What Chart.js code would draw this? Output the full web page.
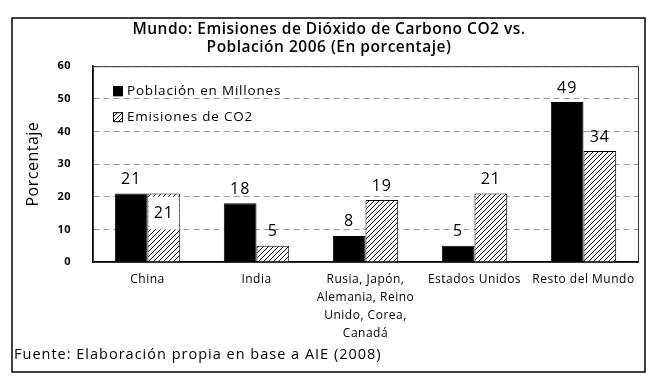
<!DOCTYPE html>
<html>
<head>
<meta charset="utf-8">
<script src="https://cdn.jsdelivr.net/npm/chart.js@4.4.1/dist/chart.umd.min.js"></script>
<style>
  html, body { margin: 0; padding: 0; background: #fff; }
  #wrap { width: 670px; height: 391px; position: relative; }
</style>
</head>
<body>
<div id="wrap"><canvas id="chart" width="670" height="391"></canvas></div>
<script>
// ---- datos ----
const categorias = [
  'China',
  'India',
  ['Rusia, Japón,', 'Alemania, Reino', 'Unido, Corea,', 'Canadá'],
  'Estados Unidos',
  'Resto del Mundo'
];
const poblacion = [21, 18, 8, 5, 49];
const emisiones = [21, 5, 19, 21, 34];
const yTicks = [0, 10, 20, 30, 40, 50, 60];
const titulo = ['Mundo: Emisiones de Dióxido de Carbono CO2 vs.', 'Población 2006 (En porcentaje)'];
const fuente = 'Fuente: Elaboración propia en base a AIE (2008)';

const FONT = '"Open Sans", "DejaVu Sans", sans-serif';

// trama rayada para emisiones
function hatch() {
  const c = document.createElement('canvas');
  c.width = 5; c.height = 5;
  const g = c.getContext('2d');
  g.fillStyle = '#fff';
  g.fillRect(0, 0, 5, 5);
  g.strokeStyle = '#000';
  g.lineWidth = 1;
  g.beginPath();
  g.moveTo(-1, 6); g.lineTo(6, -1);
  g.moveTo(-1, 1); g.lineTo(1, -1);
  g.moveTo(4, 6); g.lineTo(6, 4);
  g.stroke();
  return g.createPattern(c, 'repeat');
}
const rayado = hatch();

// ---- plugin: marco, caja, etiquetas, leyenda, fuente ----
const extras = {
  id: 'extras',
  beforeDraw(chart) {
    // el original tiene el texto algo espaciado
    chart.ctx.letterSpacing = '0.5px';
  },
  afterDatasetsDraw(chart) {
    const { ctx, chartArea: a } = chart;
    ctx.save();
    // caja del área de gráfico
    ctx.strokeStyle = '#333';
    ctx.lineWidth = 1;
    ctx.strokeRect(a.left + 0.5, a.top + 0.5, a.right - a.left, a.bottom - a.top);

    // etiquetas de valores
    ctx.letterSpacing = '1px';
    ctx.font = '16px ' + FONT;
    ctx.fillStyle = '#000';
    ctx.textAlign = 'center';
    ctx.textBaseline = 'bottom';
    const m0 = chart.getDatasetMeta(0), m1 = chart.getDatasetMeta(1);
    const ys = chart.scales.y;
    m0.data.forEach((bar, i) => {
      ctx.fillText(poblacion[i], bar.x, bar.y - 6);
    });
    m1.data.forEach((bar, i) => {
      if (emisiones[i] === poblacion[i]) {
        // choca con la etiqueta vecina: se pone dentro con fondo blanco
        const top = ys.getPixelForValue(emisiones[i] - 1);
        const bot = ys.getPixelForValue(emisiones[i] / 2 - 0.5);
        const w = bar.width;
        ctx.fillStyle = '#fff';
        ctx.fillRect(bar.x - w / 2 + 1, top, w - 2, bot - top);
        ctx.fillStyle = '#000';
        ctx.textBaseline = 'middle';
        ctx.fillText(emisiones[i], bar.x, (top + bot) / 2);
        ctx.textBaseline = 'bottom';
      } else {
        ctx.fillText(emisiones[i], bar.x, bar.y - 6);
      }
    });

    // leyenda dentro del gráfico
    ctx.letterSpacing = '0.8px';
    ctx.font = '13.5px ' + FONT;
    ctx.textAlign = 'left';
    ctx.textBaseline = 'middle';
    const lx = a.left + 20;
    chart.data.datasets.forEach((ds, i) => {
      const ly = a.top + 25 + i * 26;
      ctx.fillStyle = ds.backgroundColor;
      ctx.fillRect(lx, ly - 5, 10, 10);
      ctx.strokeStyle = '#000';
      ctx.strokeRect(lx + 0.5, ly - 4.5, 9, 9);
      ctx.fillStyle = '#000';
      ctx.fillText(ds.label, lx + 14, ly);
    });

    // fuente
    ctx.letterSpacing = '1px';
    ctx.font = '14.5px ' + FONT;
    ctx.fillText(fuente, 14, 355);

    // marco exterior
    ctx.strokeStyle = '#000';
    ctx.lineWidth = 1.5;
    ctx.strokeRect(12, 18, 633, 354);
    ctx.restore();
  }
};

new Chart(document.getElementById('chart'), {
  type: 'bar',
  data: {
    labels: categorias,
    datasets: [
      { label: 'Población en Millones', data: poblacion, backgroundColor: '#000', borderColor: '#000', borderWidth: 1 },
      { label: 'Emisiones de CO2', data: emisiones, backgroundColor: rayado, borderColor: '#000', borderWidth: 1 }
    ]
  },
  options: {
    animation: false,
    responsive: false,
    categoryPercentage: 0.6,
    barPercentage: 1,
    layout: { padding: { left: 20, right: 32, top: 0, bottom: 0 } },
    plugins: {
      legend: { display: false },
      tooltip: { enabled: false },
      title: {
        display: true,
        text: titulo,
        color: '#000',
        font: { family: FONT, size: 15.5, weight: '600', lineHeight: 1.2 },
        padding: { top: 20, bottom: 9 }
      }
    },
    scales: {
      x: {
        grid: { display: false, drawTicks: false },
        border: { color: '#000', width: 1.5 },
        ticks: { color: '#000', padding: 9, maxRotation: 0, autoSkip: false, font: { family: FONT, size: 12, lineHeight: 1.5 } },
        afterFit: s => { s.height = 129; }
      },
      y: {
        min: 0, max: 60,
        afterBuildTicks: s => { s.ticks = yTicks.map(v => ({ value: v })); },
        grid: { color: '#999', tickLength: 0, drawTicks: false },
        border: { color: '#000', width: 1.5, dash: [6, 4] },
        ticks: { color: '#000', padding: 22, font: { family: FONT, size: 11, weight: 'bold' } },
        title: { display: true, text: 'Porcentaje', color: '#000', font: { family: FONT, size: 16 }, padding: { top: 4, bottom: 0 } },
        afterFit: s => { s.width = 73; }
      }
    }
  },
  plugins: [extras]
});
</script>
</body>
</html>
